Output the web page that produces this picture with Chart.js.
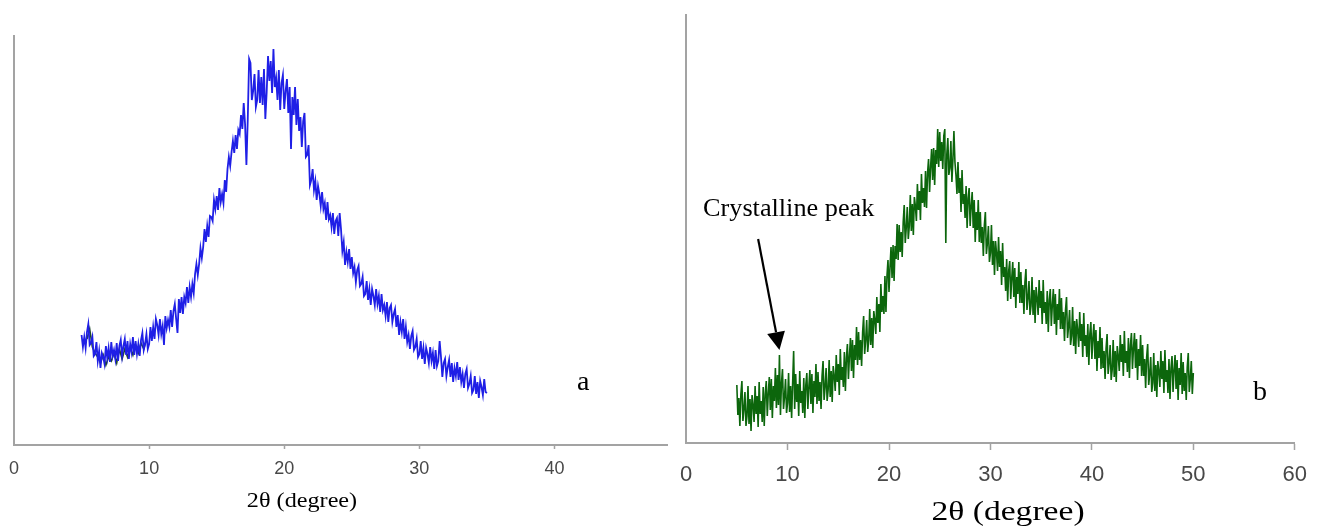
<!DOCTYPE html>
<html lang="en">
<head>
    <meta charset="UTF-8">
    <title>XRD patterns a / b</title>
    <script src="https://cdn.jsdelivr.net/npm/chart.js"></script>
    <style>
        body { margin: 0; background: #fff; width: 1319px; height: 526px; position: relative; overflow: hidden; }
        canvas { position: absolute; top: 0; }
        #chartA { left: 0; }
        #chartB { left: 668px; }
        .lbl {
            position: absolute;
            font-family: "Liberation Serif", "Times New Roman", serif;
            line-height: 1;
            color: #000;
            white-space: nowrap;
        }
        #titleA { left: 302px; top: 489px; font-size: 22px; transform: translateX(-50%) scaleX(1.1); }
        #titleB { left: 1008px; top: 497px; font-size: 28px; transform: translateX(-50%) scaleX(1.2); }
        #peak { left: 703px; top: 195px; font-size: 25px; transform-origin: left top; transform: scaleX(1.05); }
        #tagA { left: 577px; top: 367px; font-size: 28px; }
        #tagB { left: 1253px; top: 377px; font-size: 28px; }
    </style>
</head>
<body>
    <canvas id="chartA" width="668" height="526"></canvas>
    <canvas id="chartB" width="651" height="526"></canvas>

    <div class="lbl" id="titleA">2θ (degree)</div>
    <div class="lbl" id="titleB">2θ (degree)</div>
    <div class="lbl" id="peak">Crystalline peak</div>
    <div class="lbl" id="tagA">a</div>
    <div class="lbl" id="tagB">b</div>

    <script>
        // pattern a : 2theta from 5 to 35, step 0.1 (one row per degree)
        const aStart = 5.0, aStep = 0.1;
        const aCounts = [
            110, 98, 108, 97, 113, 121, 100, 102, 108, 89,
            91, 103, 84, 94, 77, 92, 88, 81, 99, 87,
            97, 83, 103, 89, 95, 86, 102, 84, 99, 105,
            89, 99, 106, 90, 104, 86, 101, 93, 108, 90,
            104, 91, 101, 89, 105, 112, 95, 101, 111, 96,
            101, 118, 104, 118, 106, 126, 120, 110, 126, 111,
            119, 100, 129, 117, 125, 118, 135, 118, 134, 141,
            126, 112, 146, 132, 148, 131, 148, 142, 158, 142,
            158, 148, 161, 152, 171, 181, 170, 181, 197, 187,
            198, 216, 203, 219, 208, 229, 228, 224, 245, 236,
            249, 235, 257, 243, 251, 242, 265, 253, 276, 288,
            279, 293, 304, 292, 310, 296, 315, 311, 330, 316,
            342, 321, 280, 326, 386, 382, 345, 354, 371, 338,
            345, 375, 342, 368, 340, 376, 326, 353, 389, 364,
            384, 352, 396, 358, 367, 345, 375, 335, 362, 370,
            336, 354, 366, 332, 358, 296, 348, 330, 358, 320,
            346, 314, 328, 298, 324, 332, 288, 290, 300, 260,
            265, 276, 255, 264, 245, 259, 251, 239, 253, 236,
            242, 225, 243, 226, 230, 218, 232, 211, 224, 227,
            209, 232, 216, 194, 203, 180, 193, 183, 196, 176,
            188, 172, 178, 163, 175, 179, 159, 161, 168, 149,
            151, 164, 145, 156, 140, 156, 149, 140, 156, 141,
            149, 133, 151, 135, 140, 129, 143, 123, 137, 140,
            123, 131, 136, 118, 130, 110, 123, 113, 126, 106,
            118, 103, 110, 96, 109, 114, 95, 98, 106, 88,
            91, 104, 86, 97, 81, 97, 91, 82, 98, 84,
            92, 76, 95, 79, 84, 104, 88, 68, 82, 86,
            69, 78, 85, 68, 82, 63, 77, 69, 83, 65,
            78, 63, 71, 57, 71, 76, 57, 61, 69, 52,
            55, 69, 51, 63, 47, 64, 58, 50, 66, 53,
            52
        ];
        // second (dark) trace sitting on the start of pattern a
        const a2Start = 5.4, a2Step = 0.2;
        const a2Counts = [
            106, 116, 98, 92, 88, 82, 90, 80, 88, 84, 92, 82,
            96, 86, 96, 88, 98, 90, 100, 92, 102, 96, 106
        ];

        // pattern b : 2theta from 5 to 50, step 0.1 (one row per degree)
        const bStart = 5.0, bStep = 0.1;
        const bCounts = [
            58, 28, 45, 17, 49, 62, 22, 34, 51, 17,
            27, 57, 19, 44, 12, 48, 38, 21, 57, 29,
            47, 16, 61, 29, 42, 21, 56, 17, 49, 62,
            27, 50, 66, 33, 64, 25, 57, 42, 75, 35,
            68, 38, 88, 28, 60, 74, 34, 46, 64, 30,
            40, 70, 31, 57, 25, 60, 92, 34, 69, 41,
            59, 27, 72, 40, 52, 30, 65, 25, 58, 70,
            34, 56, 73, 39, 69, 30, 62, 46, 79, 39,
            71, 42, 61, 34, 67, 82, 43, 56, 75, 42,
            53, 83, 46, 72, 41, 77, 67, 52, 88, 61,
            79, 48, 94, 63, 76, 56, 91, 52, 85, 99,
            64, 87, 105, 72, 103, 65, 98, 83, 116, 78,
            111, 83, 103, 77, 111, 127, 89, 103, 123, 91,
            103, 134, 98, 125, 95, 132, 123, 109, 146, 120,
            139, 111, 159, 131, 147, 129, 167, 131, 167, 183,
            151, 176, 196, 165, 198, 162, 197, 184, 219, 183,
            218, 191, 211, 186, 221, 238, 200, 215, 236, 204,
            217, 248, 212, 239, 208, 246, 237, 222, 259, 233,
            252, 223, 269, 240, 255, 236, 272, 235, 270, 284,
            251, 276, 294, 263, 295, 258, 293, 279, 314, 276,
            311, 282, 301, 274, 307, 314, 200, 289, 305, 268,
            275, 302, 261, 283, 312, 281, 268, 249, 281, 250,
            265, 231, 273, 239, 249, 225, 257, 215, 245, 255,
            217, 237, 251, 215, 243, 201, 231, 213, 243, 201,
            231, 200, 216, 187, 218, 231, 189, 200, 217, 181,
            190, 218, 178, 202, 168, 202, 190, 172, 206, 176,
            192, 158, 200, 166, 176, 152, 184, 142, 172, 182,
            144, 165, 181, 146, 175, 135, 166, 149, 181, 140,
            171, 140, 158, 129, 161, 174, 133, 145, 162, 128,
            137, 166, 128, 153, 120, 156, 145, 128, 163, 135,
            152, 119, 163, 130, 141, 119, 152, 111, 143, 154,
            117, 138, 154, 119, 149, 108, 139, 123, 154, 114,
            145, 114, 131, 102, 133, 146, 105, 116, 133, 98,
            107, 136, 97, 122, 89, 124, 113, 96, 131, 102,
            119, 86, 130, 97, 108, 86, 119, 78, 109, 121,
            84, 105, 119, 84, 113, 72, 102, 85, 116, 74,
            105, 75, 92, 64, 95, 109, 69, 80, 98, 63,
            73, 103, 66, 92, 61, 97, 87, 72, 108, 81,
            99, 67, 112, 80, 92, 71, 105, 65, 98, 110,
            74, 95, 110, 75, 104, 63, 94, 77, 108, 67,
            98, 67, 84, 55, 86, 99, 58, 69, 86, 51,
            60, 90, 52, 78, 46, 82, 72, 56, 92, 64,
            82, 50, 93, 61, 73, 50, 84, 44, 75, 87,
            51, 73, 88, 54, 83, 43, 75, 58, 90, 49,
            81, 52, 70, 43, 76, 90, 51, 64, 82, 49,
            70
        ];

        const aTicks = [0, 10, 20, 30, 40];
        const bTicks = [0, 10, 20, 30, 40, 50, 60];

        // arrow for the crystalline peak note (2theta, counts)
        const arrowTail = { x: 7.1, y: 204 };
        const arrowHead = { x: 9.2, y: 93 };

        function toPoints(start, step, vals) {
            return vals.map((v, i) => ({ x: +(start + i * step).toFixed(2), y: v }));
        }

        const axisGray = '#a3a3a3';

        function xScale(max, ticks, fontSize, tickLen, pad, boxH) {
            return {
                type: 'linear',
                min: 0,
                max: max,
                afterBuildTicks: s => { s.ticks = ticks.map(v => ({ value: v })); },
                afterFit: s => { s.height = boxH; },
                border: { display: true, color: axisGray, width: 2 },
                grid: {
                    display: true,
                    drawOnChartArea: false,
                    drawTicks: true,
                    tickLength: tickLen,
                    tickWidth: 1.5,
                    color: c => (c.tick && c.tick.value === 0 ? 'rgba(0,0,0,0)' : axisGray)
                },
                ticks: {
                    padding: pad,
                    maxRotation: 0,
                    autoSkip: false,
                    color: '#484848',
                    font: { family: 'Liberation Sans', size: fontSize }
                }
            };
        }

        function yScale(max) {
            return {
                min: 0,
                max: max,
                afterFit: s => { s.width = 0; },
                border: { display: true, color: axisGray, width: 2 },
                grid: { display: false },
                ticks: { display: false }
            };
        }

        new Chart(document.getElementById('chartA'), {
            type: 'line',
            data: {
                datasets: [{
                    data: toPoints(aStart, aStep, aCounts),
                    borderColor: '#1f1fe6',
                    borderWidth: 1.8
                }, {
                    data: toPoints(a2Start, a2Step, a2Counts),
                    borderColor: '#1d4a2a',
                    borderWidth: 1.6
                }]
            },
            options: {
                responsive: false,
                devicePixelRatio: 1,
                animation: false,
                events: [],
                layout: { padding: { left: 14, top: 36, right: 0, bottom: 0 } },
                elements: { point: { radius: 0 }, line: { tension: 0 } },
                plugins: { legend: { display: false }, tooltip: { enabled: false } },
                scales: {
                    x: xScale(48.4, aTicks, 18, 4, 9, 81),
                    y: yScale(409)
                }
            }
        });

        const arrowPlugin = {
            id: 'peakArrow',
            afterDatasetsDraw(chart) {
                const { ctx, scales } = chart;
                const x0 = scales.x.getPixelForValue(arrowTail.x), y0 = scales.y.getPixelForValue(arrowTail.y);
                const x1 = scales.x.getPixelForValue(arrowHead.x), y1 = scales.y.getPixelForValue(arrowHead.y);
                const ang = Math.atan2(y1 - y0, x1 - x0);
                const hl = 18, hw = 9;
                const bx = x1 - hl * Math.cos(ang), by = y1 - hl * Math.sin(ang);
                ctx.save();
                ctx.strokeStyle = '#000';
                ctx.fillStyle = '#000';
                ctx.lineWidth = 2.2;
                ctx.beginPath();
                ctx.moveTo(x0, y0);
                ctx.lineTo(bx, by);
                ctx.stroke();
                ctx.beginPath();
                ctx.moveTo(x1, y1);
                ctx.lineTo(bx + hw * Math.sin(ang), by - hw * Math.cos(ang));
                ctx.lineTo(bx - hw * Math.sin(ang), by + hw * Math.cos(ang));
                ctx.closePath();
                ctx.fill();
                ctx.restore();
            }
        };

        new Chart(document.getElementById('chartB'), {
            type: 'line',
            data: {
                datasets: [{
                    data: toPoints(bStart, bStep, bCounts),
                    borderColor: '#0c660c',
                    borderWidth: 1.6
                }]
            },
            options: {
                responsive: false,
                devicePixelRatio: 1,
                animation: false,
                events: [],
                layout: { padding: { left: 18, top: 15, right: 14, bottom: 0 } },
                elements: { point: { radius: 0 }, line: { tension: 0 } },
                plugins: { legend: { display: false }, tooltip: { enabled: false } },
                scales: {
                    x: xScale(60, bTicks, 22, 7, 12, 83),
                    y: yScale(428)
                }
            },
            plugins: [arrowPlugin]
        });
    </script>
</body>
</html>
